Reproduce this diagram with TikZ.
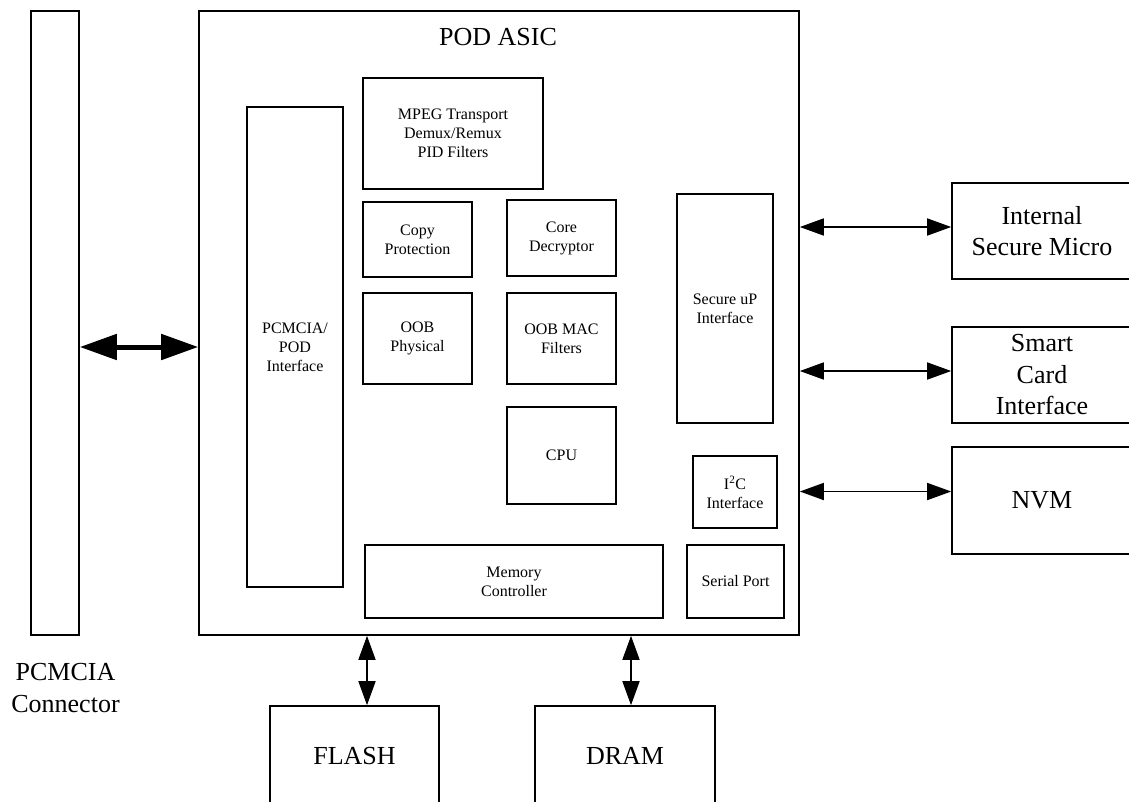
\documentclass[tikz,border=0pt]{standalone}
\usepackage{fontspec}
\setmainfont{Liberation Serif}
\usetikzlibrary{arrows.meta,positioning}

\begin{document}
\begin{tikzpicture}[x=1pt,y=-1pt,
    blk/.style={draw,line width=1.6pt,inner sep=0pt,align=center,
      font=\fontsize{16}{19}\selectfont},
    ext/.style={blk,font=\fontsize{26}{31.5}\selectfont},
    link/.style={line width=1.6pt,
      {Triangle[length=24pt,width=17pt]}-{Triangle[length=24pt,width=17pt]}},
    bus/.style={line width=5pt,
      {Triangle[length=37pt,width=25pt]}-{Triangle[length=37pt,width=25pt]}}]
  \useasboundingbox (0,0) rectangle (1129,801);
  % connector and the ASIC outline
  \node[blk,minimum width=48,minimum height=624] (conn) at (55,323) {};
  \node[font=\fontsize{26}{32}\selectfont,align=center] (connlbl) at (65.5,688) {PCMCIA\\Connector};
  \node[blk,minimum width=600,minimum height=624] (asic) at (499,323) {};
  \node[font=\fontsize{26}{31}\selectfont] (title) at (498,37) {POD ASIC};
  % blocks inside the ASIC
  \node[blk,minimum width=96,minimum height=480] (podif) at (295,347) {PCMCIA/\\POD\\Interface};
  \node[blk,minimum width=180,minimum height=111] (mpeg) at (453,133.5) {MPEG Transport\\Demux/Remux\\PID Filters};
  \node[blk,minimum width=109,minimum height=75] (copy) at (417.5,239.5) {Copy\\Protection};
  \node[blk,minimum width=109,minimum height=76] (core) at (561.5,238) {Core\\Decryptor};
  \node[blk,minimum width=109,minimum height=91] (oobphy) at (417.5,338.5) {OOB\\Physical};
  \node[blk,minimum width=109,minimum height=91] (oobmac) at (561.5,338.5) {OOB MAC\\Filters};
  \node[blk,minimum width=96,minimum height=229] (secup) at (725,308.5) {Secure uP\\Interface};
  \node[blk,minimum width=109,minimum height=97] (cpu) at (561.5,455.5) {CPU};
  \node[blk,minimum width=84,minimum height=72] (i2c) at (735,492) {I\textsuperscript{2}C\\Interface};
  \node[blk,minimum width=298,minimum height=73] (memctl) at (514,581.5) {Memory\\Controller};
  \node[blk,minimum width=97,minimum height=73] (serial) at (735.5,581.5) {Serial Port};
  % outside parts
  \node[ext,minimum width=180,minimum height=96] (ism) at (1042,231) {Internal\\Secure Micro};
  \node[ext,minimum width=180,minimum height=96] (smart) at (1042,375) {Smart\\Card\\Interface};
  \node[ext,minimum width=180,minimum height=107] (nvm) at (1042,500.5) {NVM};
  \node[ext,minimum width=169,minimum height=100] (flash) at (354.5,756) {FLASH};
  \node[ext,minimum width=180,minimum height=100] (dram) at (625,756) {DRAM};
  % buses
  \draw[bus] (conn.east |- podif) -- (asic.west |- podif);
  \draw[link] ([yshift=4pt]ism.west -| asic.east) -- ([yshift=4pt]ism.west);
  \draw[link] ([yshift=4pt]smart.west -| asic.east) -- ([yshift=4pt]smart.west);
  \draw[link] ([yshift=9pt]nvm.west -| asic.east) -- ([yshift=9pt]nvm.west);
  \draw[link] ([xshift=12.5pt]flash.north |- asic.south) -- ([xshift=12.5pt]flash.north);
  \draw[link] ([xshift=6pt]dram.north |- asic.south) -- ([xshift=6pt]dram.north);
\end{tikzpicture}
\end{document}
